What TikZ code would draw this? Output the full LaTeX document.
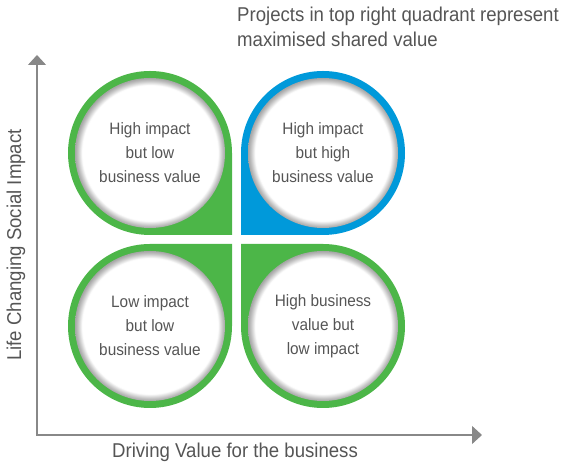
\documentclass[tikz,border=0pt]{standalone}
\usepackage{fontspec}
\setmainfont{Liberation Sans}[FakeStretch=0.93]
\usetikzlibrary{arrows.meta}
\definecolor{leafgreen}{RGB}{76,182,72}
\definecolor{leafblue}{RGB}{0,153,218}
\definecolor{inkgray}{RGB}{85,85,85}
\definecolor{axisgray}{RGB}{136,136,136}
\pgfdeclareradialshading{rim}{\pgfpoint{0bp}{0bp}}{color(0bp)=(white); color(22.6bp)=(white); color(24.2bp)=(gray!50); color(25bp)=(gray!70); color(50bp)=(gray!70)}
\begin{document}
\begin{tikzpicture}
	[x=1pt,y=1pt,
	disc/.style={circle,draw=none,shading=rim,minimum size=150pt,inner sep=0pt,
		align=center,text=inkgray,font=\fontsize{16.5}{24}\selectfont},
	axis/.style={draw=axisgray,line width=1.2pt,{Triangle[length=10pt,width=18pt]}-{Triangle[length=10pt,width=18pt]}},
	caption/.style={text=inkgray,font=\fontsize{20}{25}\selectfont}
	]
	\useasboundingbox (0,0) rectangle (563,462);

	% leaves
	\fill[leafgreen] (232,309) arc[start angle=0,end angle=270,radius=82] -- (232,227) -- cycle;
	\fill[leafblue] (323,227) arc[start angle=-90,end angle=180,radius=82] -- (241,227) -- cycle;
	\fill[leafgreen] (241,136) arc[start angle=180,end angle=450,radius=82] -- (241,218) -- cycle;
	\fill[leafgreen] (150,218) arc[start angle=90,end angle=360,radius=82] -- (232,218) -- cycle;

	\node[disc] (hilo) at (150,309) {High impact\\but low\\business value};
	\node[disc] (hihi) at (323,309) {High impact\\but high\\business value};
	\node[disc] (lolo) at (150,136) {Low impact\\but low\\business value};
	\node[disc] (bizlo) at (323,136) {High business\\value but\\low impact};

	% axes
	\coordinate (origin) at (37,27);
	\coordinate (ytip) at (37,407);
	\coordinate (xtip) at (482,27);
	\draw[axis] (ytip) |- (xtip);

	\node[caption] (xlabel) at (235,10) {Driving Value for the business};
	\node[caption,rotate=90] (ylabel) at (16,217) {Life Changing Social Impact};
	\node[caption,anchor=north west,align=left,inner sep=0pt] (note) at (237,455)
		{Projects in top right quadrant represent\\maximised shared value};
\end{tikzpicture}
\end{document}
